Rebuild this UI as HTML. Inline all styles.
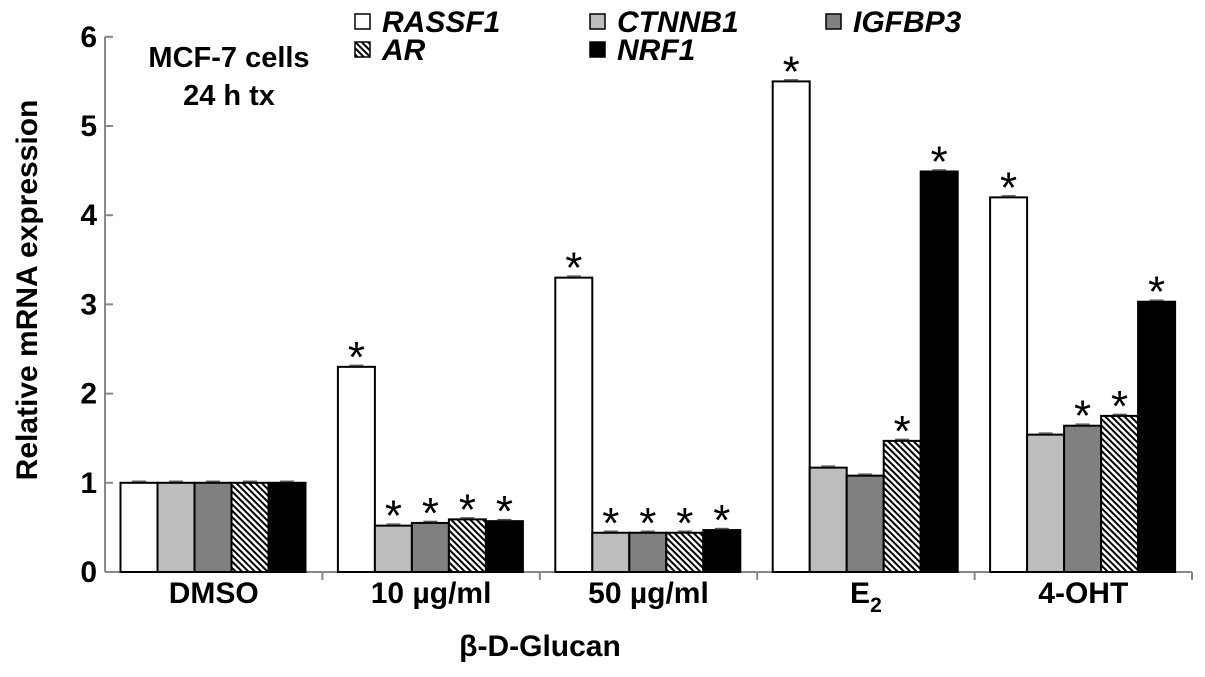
<!DOCTYPE html>
<html><head><meta charset="utf-8"><style>
body{margin:0;background:#fff}
svg{display:block;font-family:"Liberation Sans",sans-serif;font-weight:bold}
</style></head><body>
<svg width="1205" height="677" viewBox="0 0 1205 677" id="chart">
<defs>
<pattern id="hatch" width="4.5" height="4.5" patternUnits="userSpaceOnUse" patternTransform="rotate(-45)">
<rect width="4.5" height="4.5" fill="#fff"/><rect width="2" height="4.5" fill="#000"/>
</pattern>
</defs>
<g id="axes"></g>
<g id="bars"></g>
<text x="37" y="290" font-size="30" text-anchor="middle" transform="rotate(-90 37 290)">Relative mRNA expression</text>
<text x="540" y="656" font-size="30" text-anchor="middle">β-D-Glucan</text>
<text x="229" y="67" font-size="29" text-anchor="middle">MCF-7 cells</text>
<text x="229" y="105" font-size="29" text-anchor="middle">24 h tx</text>
<g id="legend" font-style="italic" font-size="30"></g>
</svg>
<script>
const categories=["DMSO","10 µg/ml","50 µg/ml","E2","4-OHT"];
const seriesNames=["RASSF1","CTNNB1","IGFBP3","AR","NRF1"];
const rassf1=[1,2.3,3.3,5.5,4.2];
const ctnnb1=[1,0.52,0.44,1.17,1.54];
const igfbp3=[1,0.55,0.44,1.08,1.64];
const ar=[1,0.59,0.44,1.47,1.75];
const nrf1=[1,0.57,0.47,4.49,3.03];
const sigRassf1=[0,1,1,1,1];
const sigCtnnb1=[0,1,1,0,0];
const sigIgfbp3=[0,1,1,0,1];
const sigAr=[0,1,1,1,1];
const sigNrf1=[0,1,1,1,1];
const yTicks=[0,1,2,3,4,5,6];
const series=[rassf1,ctnnb1,igfbp3,ar,nrf1];
const sigs=[sigRassf1,sigCtnnb1,sigIgfbp3,sigAr,sigNrf1];
const fills=["#fff","#bdbdbd","#808080","url(#hatch)","#000"];
const NS="http://www.w3.org/2000/svg";
const x0=105,groupW=217.4,yZero=572,unit=89.2,barW=37,off=15.5;
const y=v=>yZero-v*unit;
function mk(tag,attrs,parent){const e=document.createElementNS(NS,tag);for(const k in attrs)e.setAttribute(k,attrs[k]);parent.appendChild(e);return e;}
const axes=document.getElementById('axes'),bars=document.getElementById('bars'),leg=document.getElementById('legend');
let a=mk('line',{x1:x0,y1:y(0),x2:x0,y2:y(6),stroke:'#888','stroke-width':2},axes);


a=mk('line',{x1:x0,y1:y(0),x2:x0+5*groupW,y2:y(0),stroke:'#888','stroke-width':2},axes);


yTicks.forEach(t=>{
 mk('line',{x1:x0,y1:y(t),x2:x0+8,y2:y(t),stroke:'#888','stroke-width':2},axes);
 const tx=mk('text',{x:x0-8,y:y(t)+10,'font-size':30,'text-anchor':'end'},axes);
 tx.textContent=t;
 
 
});
categories.forEach((c,i)=>{
 mk('line',{x1:x0+(i+1)*groupW,y1:y(0),x2:x0+(i+1)*groupW,y2:y(0)+8,stroke:'#888','stroke-width':2},axes);
 const tx=mk('text',{x:x0+(i+0.5)*groupW,y:603,'font-size':30,'text-anchor':'middle'},axes);
 if(c==="E2"){tx.textContent="E";const s=mk('tspan',{dy:9,'font-size':21},tx);s.textContent="2";}
 else tx.textContent=c;
 
 
 series.forEach((arr,j)=>{
  const v=arr[i],bx=x0+i*groupW+off+j*barW;
  const r=mk('rect',{x:bx,y:y(v),width:barW,height:y(0)-y(v),fill:fills[j],stroke:'#000','stroke-width':2},bars);
  
  
  mk('line',{x1:bx+barW/2-7,y1:y(v)-1.5,x2:bx+barW/2+7,y2:y(v)-1.5,stroke:'#555','stroke-width':1.5},bars);
  if(sigs[j][i]){
   const s=mk('text',{x:bx+barW/2,y:y(v)+5,'font-size':44,'font-weight':'normal','text-anchor':'middle'},bars);
   s.textContent="*";
   
   
  }
 });
});
const lpos=[[355,13],[590,13],[826,13],[355,41],[590,41]];
seriesNames.forEach((n,j)=>{
 const g=mk('g',{},leg);
 
 
 mk('rect',{x:lpos[j][0],y:lpos[j][1]+1,width:15,height:15,fill:fills[j],stroke:'#000','stroke-width':1.5},g);
 const t=mk('text',{x:lpos[j][0]+27,y:lpos[j][1]+19},g);t.textContent=n;
});
</script>
</body></html>
